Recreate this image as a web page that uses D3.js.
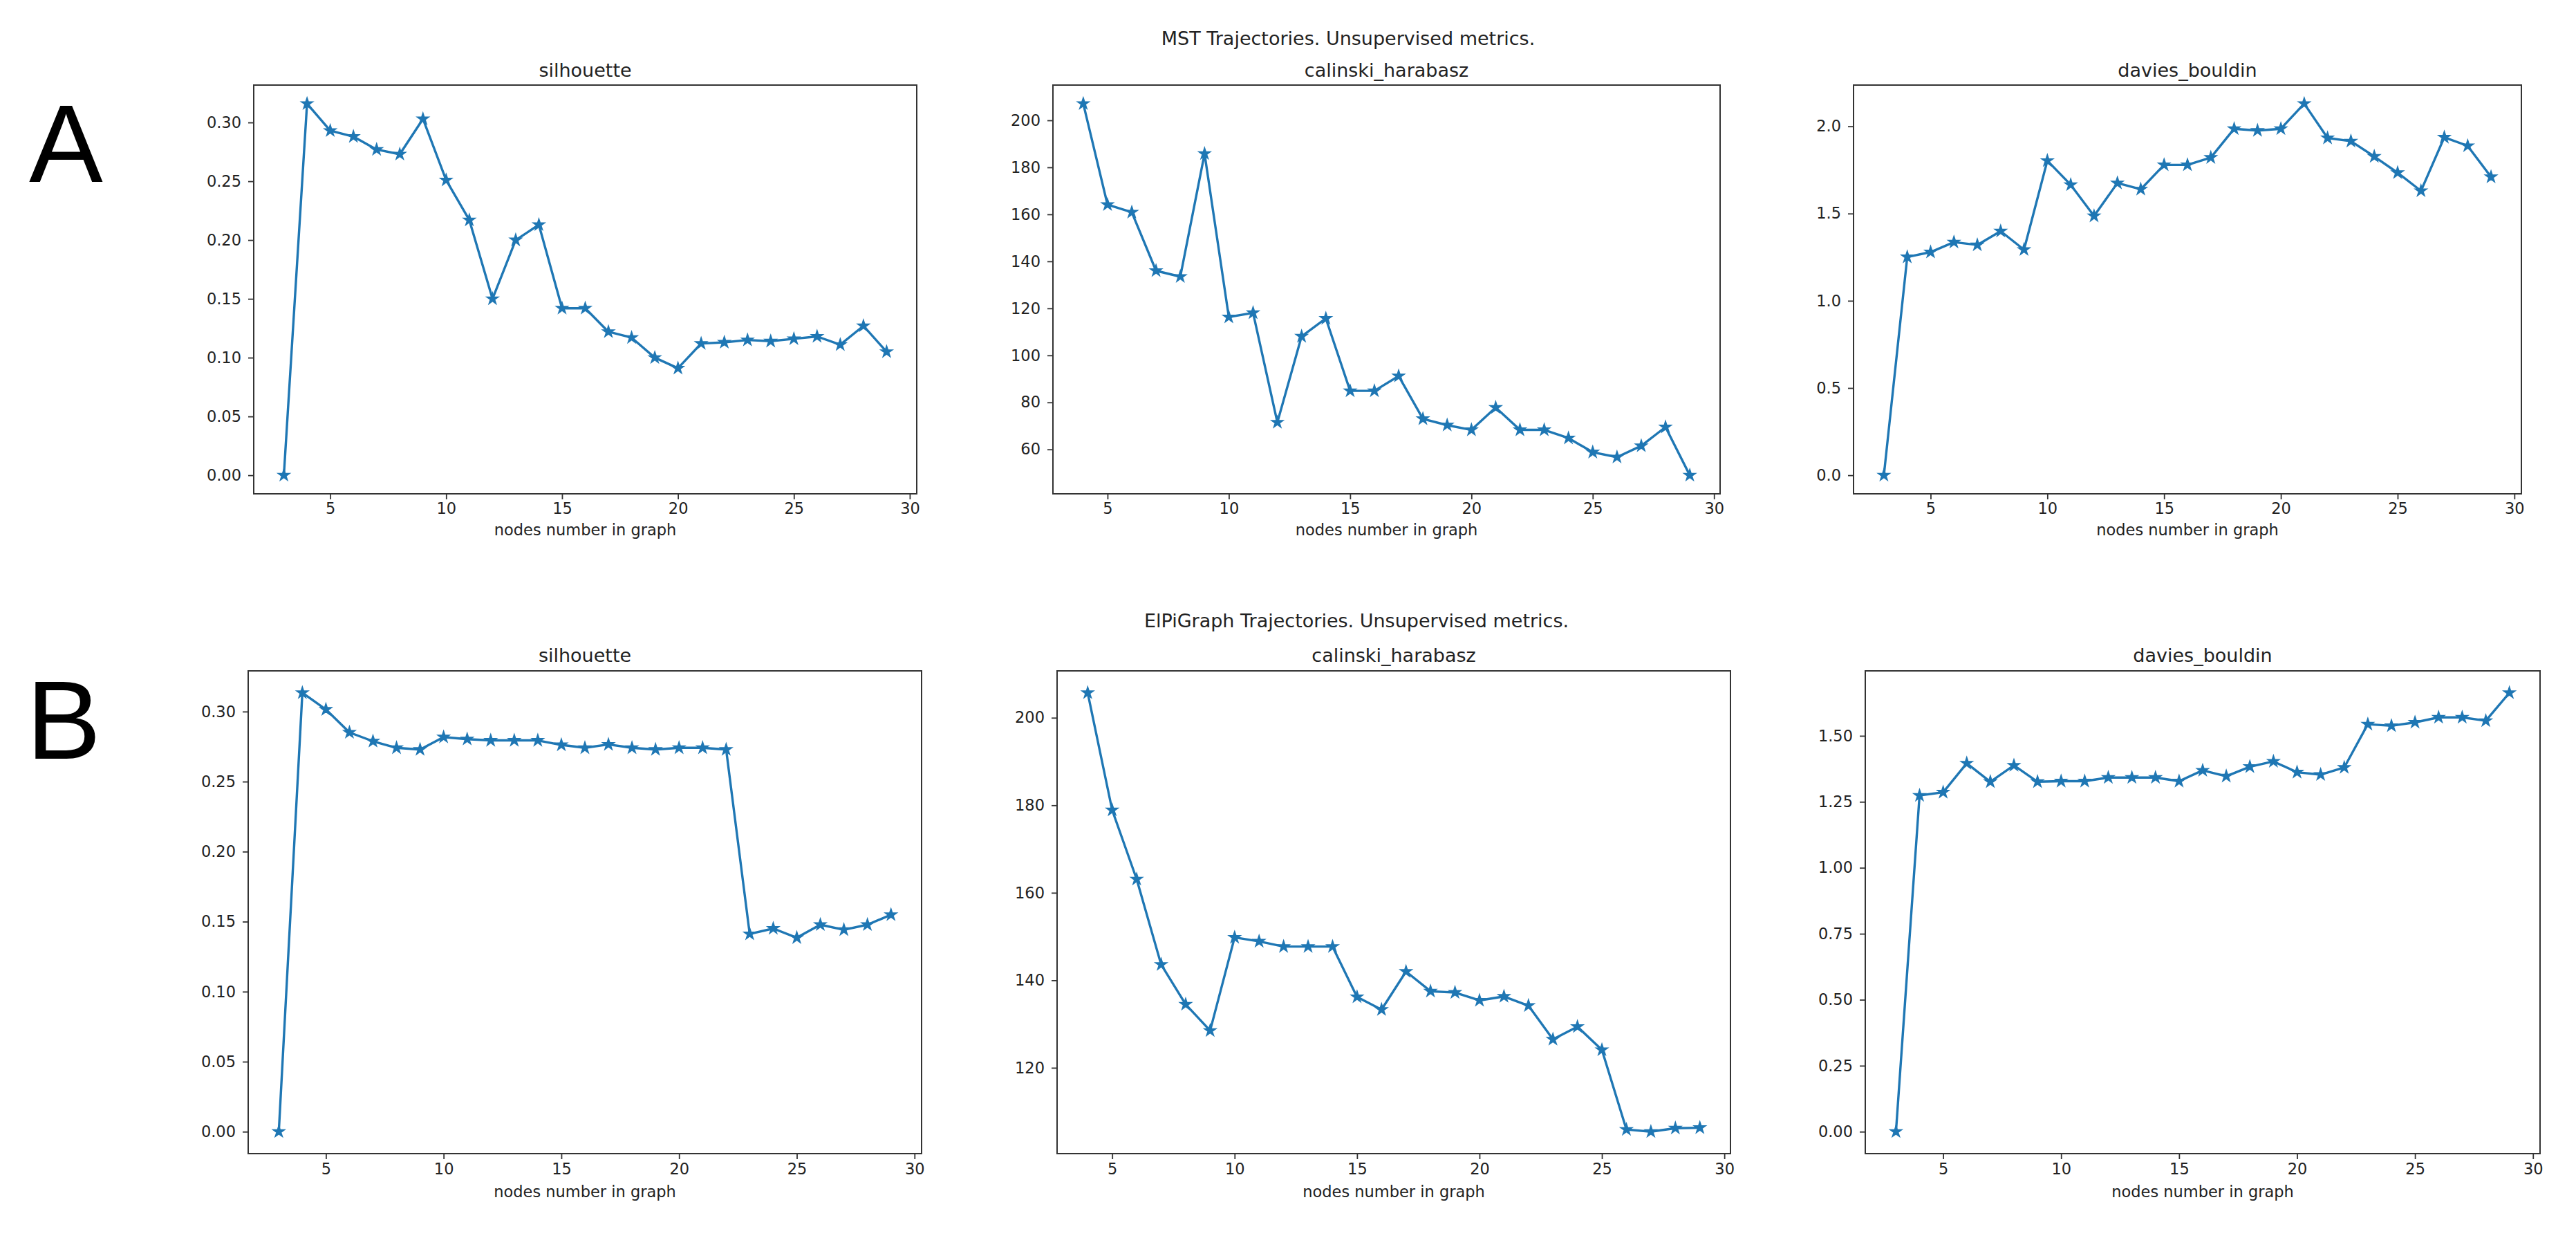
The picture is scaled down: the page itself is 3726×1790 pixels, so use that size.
<!DOCTYPE html>
<html>
<head>
<meta charset="utf-8">
<script src="https://cdn.jsdelivr.net/npm/d3@7/dist/d3.min.js"></script>
<style>
  html, body { margin: 0; padding: 0; background: #fff; }
  svg { display: block; }
</style>
</head>
<body>
<svg id="chart" width="3726" height="1790"></svg>
<script>
// ---------------- DATA ----------------
const nodesFrom3 = [3,4,5,6,7,8,9,10,11,12,13,14,15,16,17,18,19,20,21,22,23,24,25,26,27,28,29];
const nodesFrom4 = [4,5,6,7,8,9,10,11,12,13,14,15,16,17,18,19,20,21,22,23,24,25,26,27,28,29];

// Panel A: MST trajectories
const mstSilhouette = [0.000,0.316,0.293,0.288,0.277,0.273,0.303,0.251,0.217,0.150,0.200,0.213,0.142,0.142,0.122,0.117,0.100,0.091,0.112,0.113,0.115,0.114,0.116,0.118,0.111,0.127,0.105];
const mstCalinski = [207.1,164.1,160.9,136.0,133.5,185.8,116.3,118.1,71.5,108.1,115.7,84.9,84.9,91.2,73.0,70.3,68.3,77.8,68.3,68.3,64.8,58.8,56.7,61.5,69.5,49.0];
const mstDavies = [0.000,1.251,1.279,1.336,1.320,1.399,1.293,1.803,1.665,1.486,1.675,1.639,1.779,1.779,1.821,1.986,1.976,1.986,2.130,1.933,1.915,1.827,1.734,1.630,1.937,1.888,1.710];

// Panel B: ElPiGraph trajectories
const elpiSilhouette = [0.000,0.3134,0.3015,0.2851,0.2788,0.2741,0.2729,0.2818,0.2803,0.2794,0.2794,0.2794,0.2762,0.2741,0.2765,0.2741,0.2729,0.2741,0.2741,0.2729,0.1412,0.1451,0.1385,0.1478,0.1442,0.1478,0.1549];
const elpiCalinski = [205.7,178.9,163.1,143.6,134.5,128.5,149.8,148.9,147.7,147.7,147.7,136.2,133.3,142.0,137.5,137.2,135.4,136.3,134.2,126.5,129.4,124.1,105.9,105.4,106.2,106.3];
const elpiDavies = [0.000,1.274,1.286,1.396,1.326,1.388,1.326,1.328,1.328,1.342,1.342,1.342,1.328,1.369,1.347,1.383,1.403,1.362,1.353,1.380,1.544,1.538,1.551,1.570,1.570,1.557,1.663];

// Ticks
const xTickValues = [5,10,15,20,25,30];
const silTicks = [0.00,0.05,0.10,0.15,0.20,0.25,0.30];
const chTicksA = [60,80,100,120,140,160,180,200];
const chTicksB = [120,140,160,180,200];
const dbTicksA = [0.0,0.5,1.0,1.5,2.0];
const dbTicksB = [0.00,0.25,0.50,0.75,1.00,1.25,1.50];

// Texts
const panelLetters = ["A","B"];
const supTitles = ["MST Trajectories. Unsupervised metrics.", "ElPiGraph Trajectories. Unsupervised metrics."];
const metricTitles = ["silhouette","calinski_harabasz","davies_bouldin"];
const xLabel = "nodes number in graph";

// ---------------- LAYOUT ----------------
const FONT = "DejaVu Sans, sans-serif";
const BLUE = "#1f77b4";
const rows = [
  { top: 123, bottom: 714, sup: {x: 1950, y: 65}, titleY: 111, tickY: 743, labelY: 774,
    letter: {x: 42, y: 263, size: 160},
    cols: [[367,1326],[1523,2488],[2681,3647]] },
  { top: 970, bottom: 1668, sup: {x: 1962, y: 907}, titleY: 957, tickY: 1698, labelY: 1731,
    letter: {x: 38, y: 1097, size: 162},
    cols: [[359,1333],[1529,2503],[2698,3674]] }
];

const panels = [
  [ {x: nodesFrom3, y: mstSilhouette, ticks: silTicks, fmt: d3.format(".2f")},
    {x: nodesFrom4, y: mstCalinski, ticks: chTicksA, fmt: d3.format("d")},
    {x: nodesFrom3, y: mstDavies, ticks: dbTicksA, fmt: d3.format(".1f")} ],
  [ {x: nodesFrom3, y: elpiSilhouette, ticks: silTicks, fmt: d3.format(".2f")},
    {x: nodesFrom4, y: elpiCalinski, ticks: chTicksB, fmt: d3.format("d")},
    {x: nodesFrom3, y: elpiDavies, ticks: dbTicksB, fmt: d3.format(".2f")} ]
];

function paddedDomain(arr) {
  const [mn, mx] = d3.extent(arr);
  const m = (mx - mn) * 0.05;
  return [mn - m, mx + m];
}

function starPath(r) {
  const inner = r * 0.381966;
  const pts = [];
  for (let i = 0; i < 10; i++) {
    const a = -Math.PI / 2 + i * Math.PI / 5;
    const rr = i % 2 === 0 ? r : inner;
    pts.push([rr * Math.cos(a), rr * Math.sin(a)]);
  }
  return "M" + pts.map(p => p[0].toFixed(2) + "," + p[1].toFixed(2)).join("L") + "Z";
}
const STAR = starPath(8);

const svg = d3.select("#chart");
svg.append("rect").attr("width", 3726).attr("height", 1790).attr("fill", "#fff");

rows.forEach((row, ri) => {
  // Panel letter
  svg.append("text")
    .attr("x", row.letter.x).attr("y", row.letter.y)
    .attr("font-family", "Liberation Sans, Arial, sans-serif")
    .attr("font-size", row.letter.size)
    .attr("fill", "#000")
    .text(panelLetters[ri]);

  // Suptitle
  svg.append("text")
    .attr("x", row.sup.x).attr("y", row.sup.y)
    .attr("text-anchor", "middle")
    .attr("font-family", FONT).attr("font-size", 27).attr("fill", "#222")
    .text(supTitles[ri]);

  row.cols.forEach((c, ci) => {
    const p = panels[ri][ci];
    const x = d3.scaleLinear().domain(paddedDomain(p.x)).range([c[0], c[1]]);
    const y = d3.scaleLinear().domain(paddedDomain(p.y)).range([row.bottom, row.top]);
    const g = svg.append("g");

    // Title
    g.append("text")
      .attr("x", (c[0] + c[1]) / 2).attr("y", row.titleY)
      .attr("text-anchor", "middle")
      .attr("font-family", FONT).attr("font-size", 27).attr("fill", "#222")
      .text(metricTitles[ci]);

    // X axis
    const xa = g.append("g")
      .attr("transform", `translate(0,${row.bottom})`)
      .call(d3.axisBottom(x).tickValues(xTickValues).tickFormat(d3.format("d")).tickSize(8).tickPadding(8));
    xa.select(".domain").remove();
    xa.selectAll(".tick line").attr("stroke", "#333").attr("stroke-width", 1.8);
    xa.selectAll(".tick text")
      .attr("font-family", FONT).attr("font-size", 22.5).attr("fill", "#222")
      .attr("dy", null).attr("y", row.tickY - row.bottom);

    // Y axis
    const ya = g.append("g")
      .attr("transform", `translate(${c[0]},0)`)
      .call(d3.axisLeft(y).tickValues(p.ticks).tickFormat(p.fmt).tickSize(8).tickPadding(10));
    ya.select(".domain").remove();
    ya.selectAll(".tick line").attr("stroke", "#333").attr("stroke-width", 1.8);
    ya.selectAll(".tick text")
      .attr("font-family", FONT).attr("font-size", 22.5).attr("fill", "#222");

    // X label
    g.append("text")
      .attr("x", (c[0] + c[1]) / 2).attr("y", row.labelY)
      .attr("text-anchor", "middle")
      .attr("font-family", FONT).attr("font-size", 22.5).attr("fill", "#222")
      .text(xLabel);

    // Line
    const pts = p.x.map((v, i) => [v, p.y[i]]);
    g.append("path")
      .datum(pts)
      .attr("fill", "none")
      .attr("stroke", BLUE)
      .attr("stroke-width", 3.4)
      .attr("stroke-linejoin", "round")
      .attr("d", d3.line().x(d => x(d[0])).y(d => y(d[1])));

    // Markers
    g.selectAll("path.star")
      .data(pts)
      .join("path")
      .attr("class", "star")
      .attr("d", STAR)
      .attr("transform", d => `translate(${x(d[0])},${y(d[1])})`)
      .attr("fill", BLUE)
      .attr("stroke", BLUE)
      .attr("stroke-width", 2);

    // Frame
    g.append("rect")
      .attr("x", c[0]).attr("y", row.top)
      .attr("width", c[1] - c[0]).attr("height", row.bottom - row.top)
      .attr("fill", "none").attr("stroke", "#333").attr("stroke-width", 2);
  });
});
</script>
</body>
</html>
